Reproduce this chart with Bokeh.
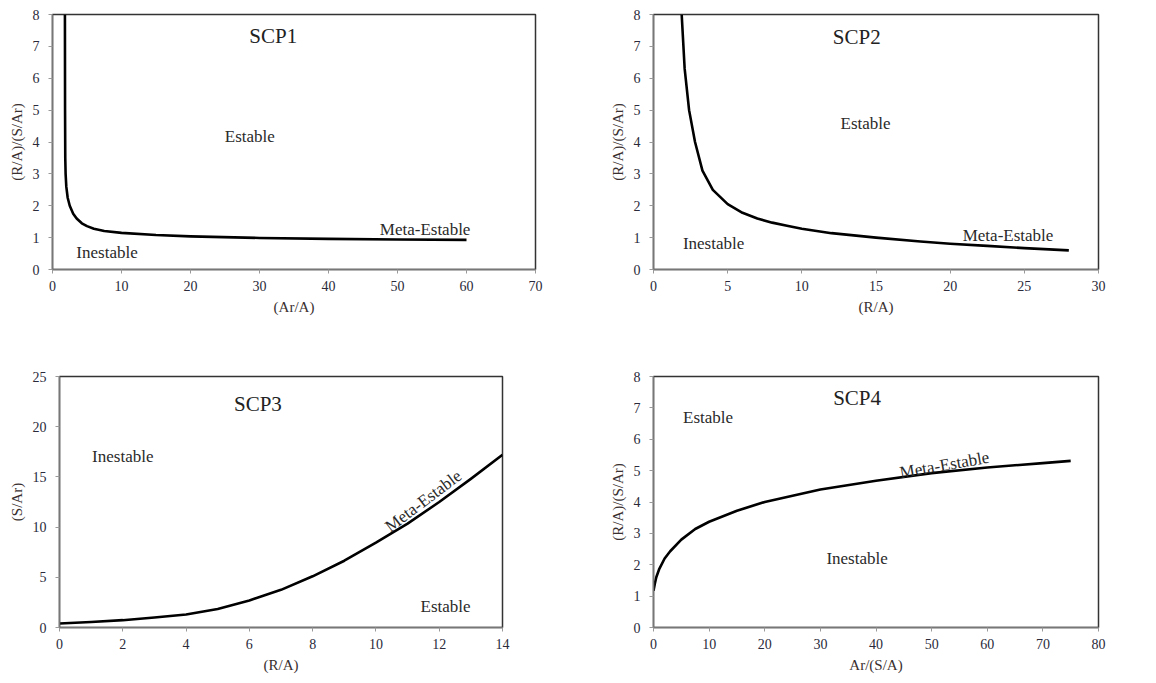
from bokeh.plotting import figure
from bokeh.models import Range1d, FixedTicker
from bokeh.layouts import column, row
from bokeh.core.properties import value
from bokeh.embed import file_html
from bokeh.resources import INLINE
import math

FONT = "Liberation Serif"

# ---- data ----
scp1_x = [1.8, 1.82, 1.85, 1.9, 2.0, 2.2, 2.5, 3.0, 3.5, 4.25, 5, 6, 7.5, 10, 15, 20, 30, 40, 50, 60]
scp1_y = [8, 5, 3.5, 3.0, 2.6, 2.25, 2.0, 1.75, 1.6, 1.45, 1.36, 1.28, 1.21, 1.15, 1.08, 1.04, 0.99, 0.96, 0.94, 0.93]

scp2_x = [1.9, 2.1, 2.4, 2.8, 3.3, 4.0, 5.0, 6.0, 7, 8, 9, 10, 12, 15, 18, 20, 22.5, 25, 28]
scp2_y = [8, 6.3, 5.0, 4.0, 3.1, 2.5, 2.05, 1.78, 1.6, 1.47, 1.37, 1.28, 1.14, 1.0, 0.88, 0.81, 0.74, 0.67, 0.6]

scp3_x = [0, 1, 2, 3, 4, 5, 6, 7, 8, 9, 10, 11, 12, 13, 14]
scp3_y = [0.4, 0.55, 0.73, 1.0, 1.3, 1.85, 2.7, 3.75, 5.1, 6.65, 8.45, 10.35, 12.5, 14.8, 17.2]

scp4_x = [0, 0.25, 0.5, 1, 2, 3, 5, 7.5, 10, 15, 20, 30, 40, 50, 60, 70, 75]
scp4_y = [1.17, 1.4, 1.6, 1.85, 2.2, 2.43, 2.8, 3.14, 3.37, 3.72, 4.0, 4.4, 4.68, 4.92, 5.1, 5.24, 5.31]

titles = ["SCP1", "SCP2", "SCP3", "SCP4"]
x_labels = ["(Ar/A)", "(R/A)", "(R/A)", "Ar/(S/A)"]
y_labels = ["(R/A)/(S/Ar)", "(R/A)/(S/Ar)", "(S/Ar)", "(R/A)/(S/Ar)"]
x_ticks = [list(range(0, 71, 10)), list(range(0, 31, 5)), list(range(0, 15, 2)), list(range(0, 81, 10))]
y_ticks = [list(range(0, 9)), list(range(0, 9)), list(range(0, 26, 5)), list(range(0, 9))]

region_labels = [
    [("Estable", 28.6, 4.17, 0), ("Inestable", 7.9, 0.53, 0), ("Meta-Estable", 54, 1.25, 0)],
    [("Estable", 14.3, 4.59, 0), ("Inestable", 4.05, 0.82, 0), ("Meta-Estable", 23.9, 1.07, 0)],
    [("Inestable", 2.0, 17.0, 0), ("Estable", 12.2, 2.1, 0), ("Meta-Estable", 11.5, 12.6, 37)],
    [("Estable", 9.8, 6.7, 0), ("Inestable", 36.6, 2.21, 0), ("Meta-Estable", 52.3, 5.18, 10)],
]
title_pos = [(32, 7.34), (13.7, 7.3), (6.27, 22.25), (36.6, 7.32)]

curves = [(scp1_x, scp1_y), (scp2_x, scp2_y), (scp3_x, scp3_y), (scp4_x, scp4_y)]

# layout: (width, height, left, right, top, bottom)
geom = [
    (590, 345, 52, 55, 14, 76),
    (566, 345, 63, 58, 14, 76),
    (590, 338, 59, 88, 31, 56),
    (566, 338, 63, 58, 30, 52),
]

figs = []
for i in range(4):
    w, h, l, r, t, b = geom[i]
    p = figure(width=w, height=h, output_backend="svg", toolbar_location=None,
               x_range=Range1d(x_ticks[i][0], x_ticks[i][-1]),
               y_range=Range1d(y_ticks[i][0], y_ticks[i][-1]),
               min_border_left=l, min_border_right=r, min_border_top=t, min_border_bottom=b)
    p.grid.visible = False
    p.outline_line_color = "#333333"
    p.outline_line_width = 1.5
    p.background_fill_color = "white"
    p.border_fill_color = "white"
    for ax in (p.xaxis[0], p.yaxis[0]):
        ax.axis_line_color = "#777777"
        ax.axis_line_width = 1.5
        ax.major_tick_line_color = "#999999"
        ax.major_tick_out = 4
        ax.major_tick_in = 0
        ax.minor_tick_line_color = None
        ax.major_label_text_font = FONT
        ax.major_label_text_font_size = "14px"
        ax.major_label_text_color = "#2a2a3a"
        ax.axis_label_text_font = FONT
        ax.axis_label_text_font_size = "15px"
        ax.axis_label_text_font_style = "normal"
        ax.axis_label_text_color = "#3a3030"
    p.xaxis.ticker = FixedTicker(ticks=x_ticks[i])
    p.yaxis.ticker = FixedTicker(ticks=y_ticks[i])
    p.xaxis.axis_label = x_labels[i]
    p.yaxis.axis_label = y_labels[i]
    p.xaxis.major_label_standoff = 7
    p.yaxis.major_label_standoff = 9
    p.xaxis.axis_label_standoff = 5
    p.yaxis.axis_label_standoff = 5

    cx, cy = curves[i]
    p.line(cx, cy, line_color="black", line_width=2.6, line_join="round")

    tx, ty = title_pos[i]
    p.text(x=[tx], y=[ty], text=[titles[i]], text_font=value(FONT), text_font_size="21px",
           text_align="center", text_baseline="middle", text_color="#222222")
    for (s, x, y, ang) in region_labels[i]:
        p.text(x=[x], y=[y], text=[s], text_font=value(FONT), text_font_size="17px",
               text_align="center", text_baseline="middle", text_color="#2a2a2a",
               angle=math.radians(ang))
    figs.append(p)

layout = column(row(figs[0], figs[1]), row(figs[2], figs[3]))
open("out.html", "w").write(file_html(layout, INLINE))
